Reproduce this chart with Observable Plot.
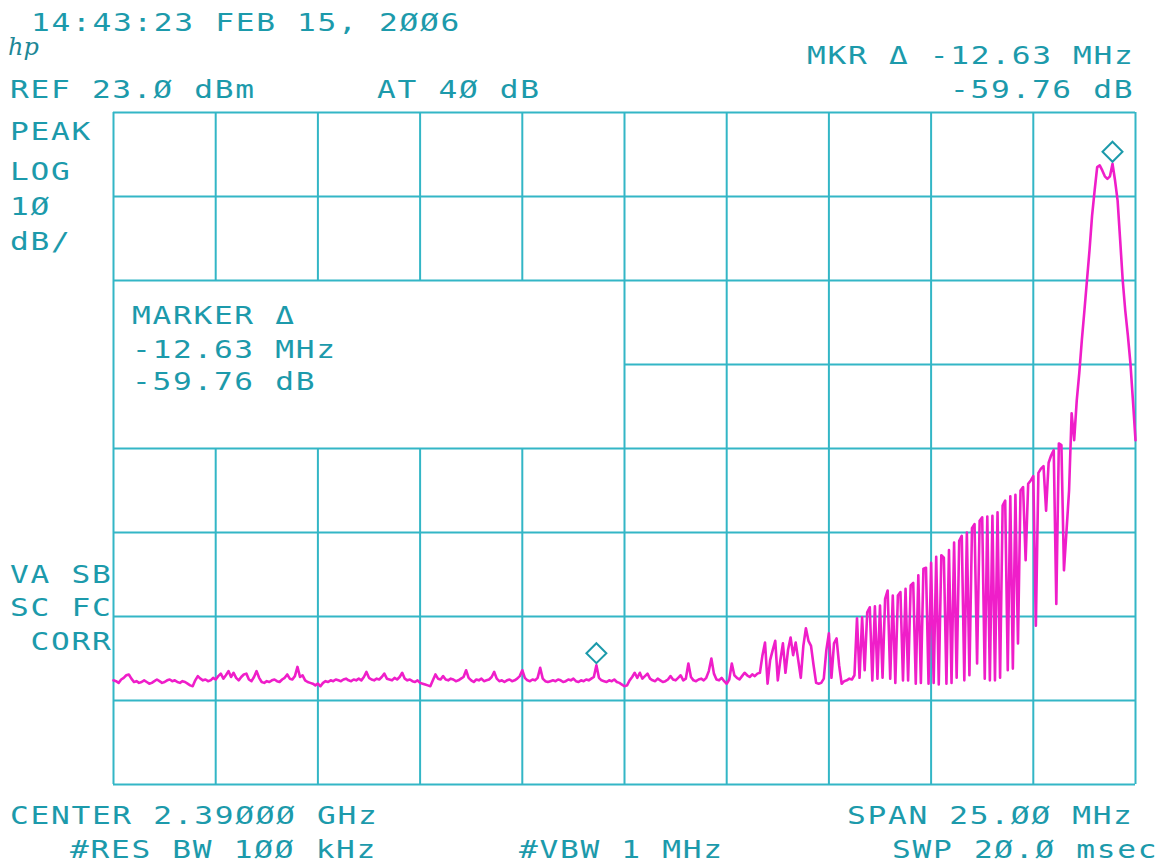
<!DOCTYPE html>
<html><head><meta charset="utf-8">
<script src="https://cdn.jsdelivr.net/npm/d3@7"></script>
<script src="https://cdn.jsdelivr.net/npm/@observablehq/plot@0.6"></script>
<style>
html,body{margin:0;padding:0;background:#fff;}
#chart{width:1164px;height:867px;position:relative;}
#chart svg{display:block;}
</style></head><body><div id="chart"></div>
<script>
// ---- instrument settings ----
const refLevel = 23;        // dBm (top graticule line)
const dbPerDiv = 10;
const centerMHz = 2390;
const spanMHz = 25;
const sweepPoints = 401;

// ---- graticule divisions ----
const freqDivs = [2377.5, 2380, 2382.5, 2385, 2387.5, 2390, 2392.5, 2395, 2397.5, 2400, 2402.5];
const levelDivs = [23, 13, 3, -7, -17, -27, -37, -47, -57];

// ---- trace (dBm), one value per sweep point ----
const levels = [
-44.6,-44.7,-44.9,-44.5,-44.3,-44.0,-43.9,-44.4,-44.8,-44.7,
-44.9,-44.8,-44.6,-44.8,-45.0,-44.9,-44.7,-44.5,-44.7,-44.9,
-44.8,-44.6,-44.5,-44.7,-44.6,-44.8,-44.9,-44.7,-44.8,-45.0,
-45.2,-45.3,-44.6,-44.1,-44.4,-44.6,-44.5,-44.7,-44.6,-44.3,
-44.5,-44.1,-43.8,-44.4,-44.0,-43.5,-44.2,-43.7,-44.3,-44.6,
-44.2,-43.9,-43.8,-44.5,-44.7,-44.2,-43.5,-44.3,-44.8,-44.9,
-44.7,-44.8,-44.6,-44.5,-44.7,-44.8,-44.5,-44.3,-43.9,-44.4,
-44.5,-44.1,-43.0,-44.2,-44.0,-44.6,-44.8,-44.9,-45.0,-45.2,
-45.0,-45.3,-44.9,-44.7,-44.8,-44.6,-44.7,-44.5,-44.6,-44.7,
-44.5,-44.4,-44.6,-44.7,-44.5,-44.6,-44.4,-44.6,-44.2,-43.6,
-44.3,-44.5,-44.6,-44.4,-44.5,-44.2,-43.8,-44.4,-44.5,-44.6,
-44.3,-44.5,-44.2,-43.7,-44.4,-44.6,-44.5,-44.7,-44.8,-44.6,
-44.9,-45.0,-45.1,-45.2,-45.3,-44.6,-43.9,-44.4,-44.5,-44.1,
-44.5,-44.6,-44.4,-44.5,-44.7,-44.6,-44.4,-44.2,-43.4,-44.3,
-44.6,-44.8,-44.5,-44.6,-44.4,-44.7,-44.6,-44.5,-44.2,-43.6,
-44.4,-44.7,-44.6,-44.8,-44.6,-44.5,-44.7,-44.6,-44.4,-44.1,
-43.4,-44.3,-44.6,-44.7,-44.5,-44.6,-44.3,-43.1,-44.4,-44.7,
-44.8,-44.7,-44.6,-44.7,-44.5,-44.6,-44.8,-44.7,-44.5,-44.6,
-44.4,-44.7,-44.8,-44.6,-44.7,-44.5,-44.6,-44.4,-44.2,-42.8,
-44.3,-44.6,-44.7,-44.8,-44.6,-44.7,-44.5,-44.8,-44.9,-45.1,
-45.3,-45.2,-44.6,-44.2,-43.7,-44.3,-43.7,-44.4,-44.1,-43.8,
-44.4,-44.6,-44.7,-44.4,-44.6,-44.8,-44.7,-44.5,-44.1,-44.5,
-44.6,-44.3,-44.0,-44.6,-44.4,-42.6,-44.2,-44.6,-44.7,-44.5,
-44.4,-44.6,-44.3,-43.5,-42.0,-43.8,-44.5,-44.6,-44.3,-44.7,
-45.0,-44.5,-42.6,-44.0,-44.3,-44.5,-44.1,-43.7,-44.0,-44.2,
-43.9,-44.1,-43.8,-43.7,-41.6,-40.1,-45.0,-42.2,-41.0,-39.9,
-44.6,-42.2,-40.2,-43.7,-41.0,-39.5,-41.6,-40.1,-42.2,-44.3,
-40.5,-38.4,-39.9,-40.5,-42.8,-44.9,-45.0,-44.9,-44.4,-41.0,
-39.0,-44.3,-40.2,-39.6,-42.8,-45.0,-44.7,-44.6,-44.4,-44.5,
-44.0,-37.2,-44.3,-37.1,-43.4,-36.5,-35.9,-44.6,-35.8,-44.4,
-35.7,-44.3,-34.9,-33.9,-44.4,-34.5,-44.9,-34.5,-34.1,-44.6,
-33.7,-44.6,-33.3,-33.0,-45.0,-32.1,-44.9,-31.3,-31.2,-45.0,
-30.6,-44.9,-29.9,-45.1,-29.7,-30.0,-45.0,-29.1,-44.9,-28.2,
-44.3,-28.0,-27.4,-44.6,-27.0,-44.0,-26.5,-26.0,-42.6,-25.6,
-25.2,-44.4,-25.1,-44.6,-25.0,-44.6,-24.6,-44.3,-23.8,-23.2,
-43.4,-22.7,-43.2,-22.5,-40.2,-22.0,-21.6,-30.3,-21.2,-20.8,
-20.3,-38.1,-19.9,-19.4,-19.1,-24.4,-18.7,-17.8,-17.2,-35.5,
-16.4,-16.6,-31.5,-26.8,-22.0,-12.8,-16.0,-11.3,-8.0,-4.1,
-0.6,3.0,6.6,10.7,13.7,16.5,16.7,16.1,15.4,15.1,
15.4,16.9,14.9,12.5,7.8,3.0,-0.6,-3.5,-6.8,-11.3,
-16.0
];

// ---- markers (sweep point indices): delta marker, reference marker at peak ----
const markerIdx = [189, 391];

// ---- annotation texts ----
const dateText = "14:43:23 FEB 15, 2ØØ6";
const mkrText = ["MKR Δ -12.63 MHz", "-59.76 dB"];
const refText = "REF 23.Ø dBm";
const attText = "AT 4Ø dB";
const scaleText = ["PEAK", "LOG", "1Ø", "dB/"];
const modeText = ["VA SB", "SC FC", " CORR"];
const markerBoxText = ["MARKER Δ", "-12.63 MHz", "-59.76 dB"];
const footerText = ["CENTER 2.39ØØØ GHz", "SPAN 25.ØØ MHz", "#RES BW 1ØØ kHz", "#VBW 1 MHz", "SWP 2Ø.Ø msec"];

// ---- build tables ----
const startMHz = centerMHz - spanMHz / 2;
const stopMHz = centerMHz + spanMHz / 2;
const bottomLevel = refLevel - dbPerDiv * (levelDivs.length - 1);
const trace = levels.map((db, i) => ({f: startMHz + i * spanMHz / (sweepPoints - 1), db}));
const markers = markerIdx.map(i => trace[i]);

// Marker text box area (blank region of graticule)
const boxF = [freqDivs[0], freqDivs[5]];
const boxL = [levelDivs[4], levelDivs[2]];

const vRules = [];
freqDivs.forEach(f => {
  if (f > boxF[0] && f < boxF[1]) {
    vRules.push({f, lo: bottomLevel, hi: boxL[0]});
    vRules.push({f, lo: boxL[1], hi: refLevel});
  } else vRules.push({f, lo: bottomLevel, hi: refLevel});
});
const hRules = levelDivs.map(l => (l > boxL[0] && l < boxL[1]) ? {l, a: boxF[1], b: stopMHz} : {l, a: startMHz, b: stopMHz});

const gridColor = "#33b6c6";
const textColor = "#1c9aab";
const traceColor = "#ef1ec9";

const chart = Plot.plot({
  width: 1164, height: 867,
  marginLeft: 113, marginRight: 29, marginTop: 112, marginBottom: 83,
  x: {domain: [startMHz, stopMHz], axis: null},
  y: {domain: [bottomLevel, refLevel], axis: null},
  style: {background: "#fff", overflow: "visible"},
  marks: [
    Plot.ruleX(vRules, {x: "f", y1: "lo", y2: "hi", stroke: gridColor, strokeWidth: 2}),
    Plot.ruleY(hRules, {y: "l", x1: "a", x2: "b", stroke: gridColor, strokeWidth: 2}),
    Plot.line(trace, {x: "f", y: "db", stroke: traceColor, strokeWidth: 2.6, strokeLinejoin: "round"}),
    Plot.dot(markers, {x: "f", y: "db", symbol: "diamond2", r: 9, stroke: textColor, strokeWidth: 2, fill: "none", dy: -12})
  ]
});
document.getElementById("chart").appendChild(chart);

// ---- annotation layer (plotter text, wide monospace cells) ----
const svg = d3.select(chart);
const g = svg.append("g")
  .attr("font-family", "'DejaVu Sans Mono', monospace")
  .attr("font-size", 24)
  .attr("text-anchor", "start")
  .attr("fill", textColor)
  .style("letter-spacing", "1.3px")
  .style("white-space", "pre");

const labels = [
  [dateText, 31, 31],
  [mkrText[0], 807, 64],
  [refText, 10, 98],
  [attText, 377, 98],
  [mkrText[1], 950, 98],
  [scaleText[0], 10, 140],
  [scaleText[1], 10, 180],
  [scaleText[2], 10, 215],
  [scaleText[3], 10, 250],
  [modeText[0], 10, 583],
  [modeText[1], 10, 616],
  [modeText[2], 10, 650],
  [markerBoxText[0], 132, 324],
  [markerBoxText[1], 132, 358],
  [markerBoxText[2], 132, 390],
  [footerText[0], 10, 824],
  [footerText[1], 847, 824],
  [footerText[2], 70, 858],
  [footerText[3], 519, 858],
  [footerText[4], 892, 858]
];
labels.forEach(([t, x, y]) => {
  g.append("text")
    .attr("transform", `translate(${x},${y}) scale(1.3,1)`)
    .attr("xml:space", "preserve")
    .text(t);
});

// hp logo
svg.append("text").attr("x", 8).attr("y", 55).attr("text-anchor", "start")
  .attr("font-family", "'DejaVu Serif', serif").attr("font-style", "italic")
  .attr("font-size", 24).attr("fill", "#1d8796").text("hp");
</script>
</body></html>
